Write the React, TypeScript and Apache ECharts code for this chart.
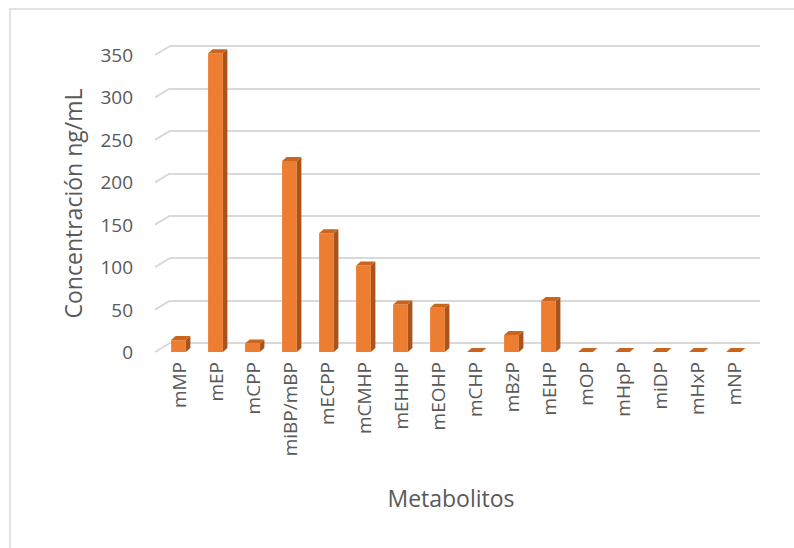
import React, { useEffect, useRef } from "react";
import * as echarts from "echarts";

const categories = ["mMP", "mEP", "mCPP", "miBP/mBP", "mECPP", "mCMHP", "mEHHP", "mEOHP", "mCHP", "mBzP", "mEHP", "mOP", "mHpP", "miDP", "mHxP", "mNP"];
const values = [14, 352, 10, 225, 140, 102, 56, 52, 0, 20, 60, 0, 0, 0, 0, 0];
const yTicks = [0, 50, 100, 150, 200, 250, 300, 350];

const FRONT = "#ED7D31";
const SIDE = "#A8541C";
const TOP = "#C9651F";
const GRID = "#D9D9D9";
const TEXT = "#595959";
const FONT = "Open Sans";

export default function App() {
  const ref = useRef<HTMLDivElement>(null);
  useEffect(() => {
    if (!ref.current) return;
    const chart = echarts.init(ref.current, null, { renderer: "svg" });
    const option: any = {
      animation: false,
      textStyle: { fontFamily: FONT },
      graphic: [
        {
          type: "rect",
          shape: { x: 10, y: 9, width: 800, height: 600 },
          style: { fill: "none", stroke: GRID, lineWidth: 1.5 },
          silent: true,
          z: -10,
        },
      ],
      grid: [
        { left: 160, top: 55, width: 592, height: 297 },
        { left: 170, top: 46, width: 590, height: 297 },
      ],
      xAxis: [
        {
          type: "category",
          gridIndex: 0,
          data: categories,
          axisLine: { show: false },
          axisTick: { show: false },
          axisLabel: { rotate: 90, margin: 10, color: TEXT, fontSize: 19, fontFamily: FONT, interval: 0 },
          name: "Metabolitos",
          nameLocation: "middle",
          nameGap: 134,
          nameTextStyle: { color: TEXT, fontSize: 23, fontFamily: FONT, padding: [0, 10, 0, 0] },
        },
        {
          type: "category",
          gridIndex: 1,
          data: categories,
          show: false,
        },
      ],
      yAxis: [
        {
          type: "value",
          gridIndex: 0,
          min: 0,
          max: 350,
          interval: 50,
          axisLine: { show: false },
          axisTick: { show: false },
          splitLine: { show: false },
          axisLabel: { margin: 27, color: TEXT, fontSize: 19, fontFamily: FONT },
          name: "Concentración ng/mL",
          nameLocation: "middle",
          nameGap: 76,
          nameTextStyle: { color: TEXT, fontSize: 23, fontFamily: FONT },
        },
        {
          type: "value",
          gridIndex: 1,
          min: 0,
          max: 350,
          interval: 50,
          axisLine: { show: false },
          axisTick: { show: false },
          axisLabel: { show: false },
          splitLine: { show: true, lineStyle: { color: GRID, width: 2 } },
        },
      ],
      series: [
        {
          type: "custom",
          xAxisIndex: 0,
          yAxisIndex: 0,
          silent: true,
          data: yTicks.map((v) => [0, v]),
          renderItem: (params: any, api: any) => {
            const p = api.coord([0, api.value(1)]);
            const cs = params.coordSys;
            return {
              type: "line",
              shape: { x1: cs.x - 5, y1: p[1], x2: cs.x + 10, y2: p[1] - 9 },
              style: { stroke: GRID, lineWidth: 2 },
            };
          },
          z: 1,
        },
        {
          type: "custom",
          xAxisIndex: 0,
          yAxisIndex: 0,
          data: values.map((v, i) => [i, v]),
          renderItem: (params: any, api: any) => {
            const idx = api.value(0);
            const v = api.value(1);
            const top = api.coord([idx, v]);
            const base = api.coord([idx, 0]);
            const bw = api.size([1, 0])[0] * 0.4;
            const x0 = top[0] - bw / 2;
            const x1 = top[0] + bw / 2;
            const dx = 4.5;
            const dy = -4;
            const yt = top[1];
            const yb = base[1];
            return {
              type: "group",
              children: [
                {
                  type: "polygon",
                  shape: { points: [[x1, yt], [x1 + dx, yt + dy], [x1 + dx, yb + dy], [x1, yb]] },
                  style: { fill: SIDE },
                },
                {
                  type: "rect",
                  shape: { x: x0, y: yt, width: bw, height: yb - yt },
                  style: { fill: FRONT },
                },
                {
                  type: "polygon",
                  shape: { points: [[x0, yt], [x0 + dx, yt + dy], [x1 + dx, yt + dy], [x1, yt]] },
                  style: { fill: TOP },
                },
              ],
            };
          },
          z: 5,
        },
      ],
    };
    chart.setOption(option);
    return () => chart.dispose();
  }, []);
  return (
    <div
      ref={ref}
      style={{ position: "fixed", left: 0, top: 0, width: 794, height: 548, background: "#fff" }}
    />
  );
}
